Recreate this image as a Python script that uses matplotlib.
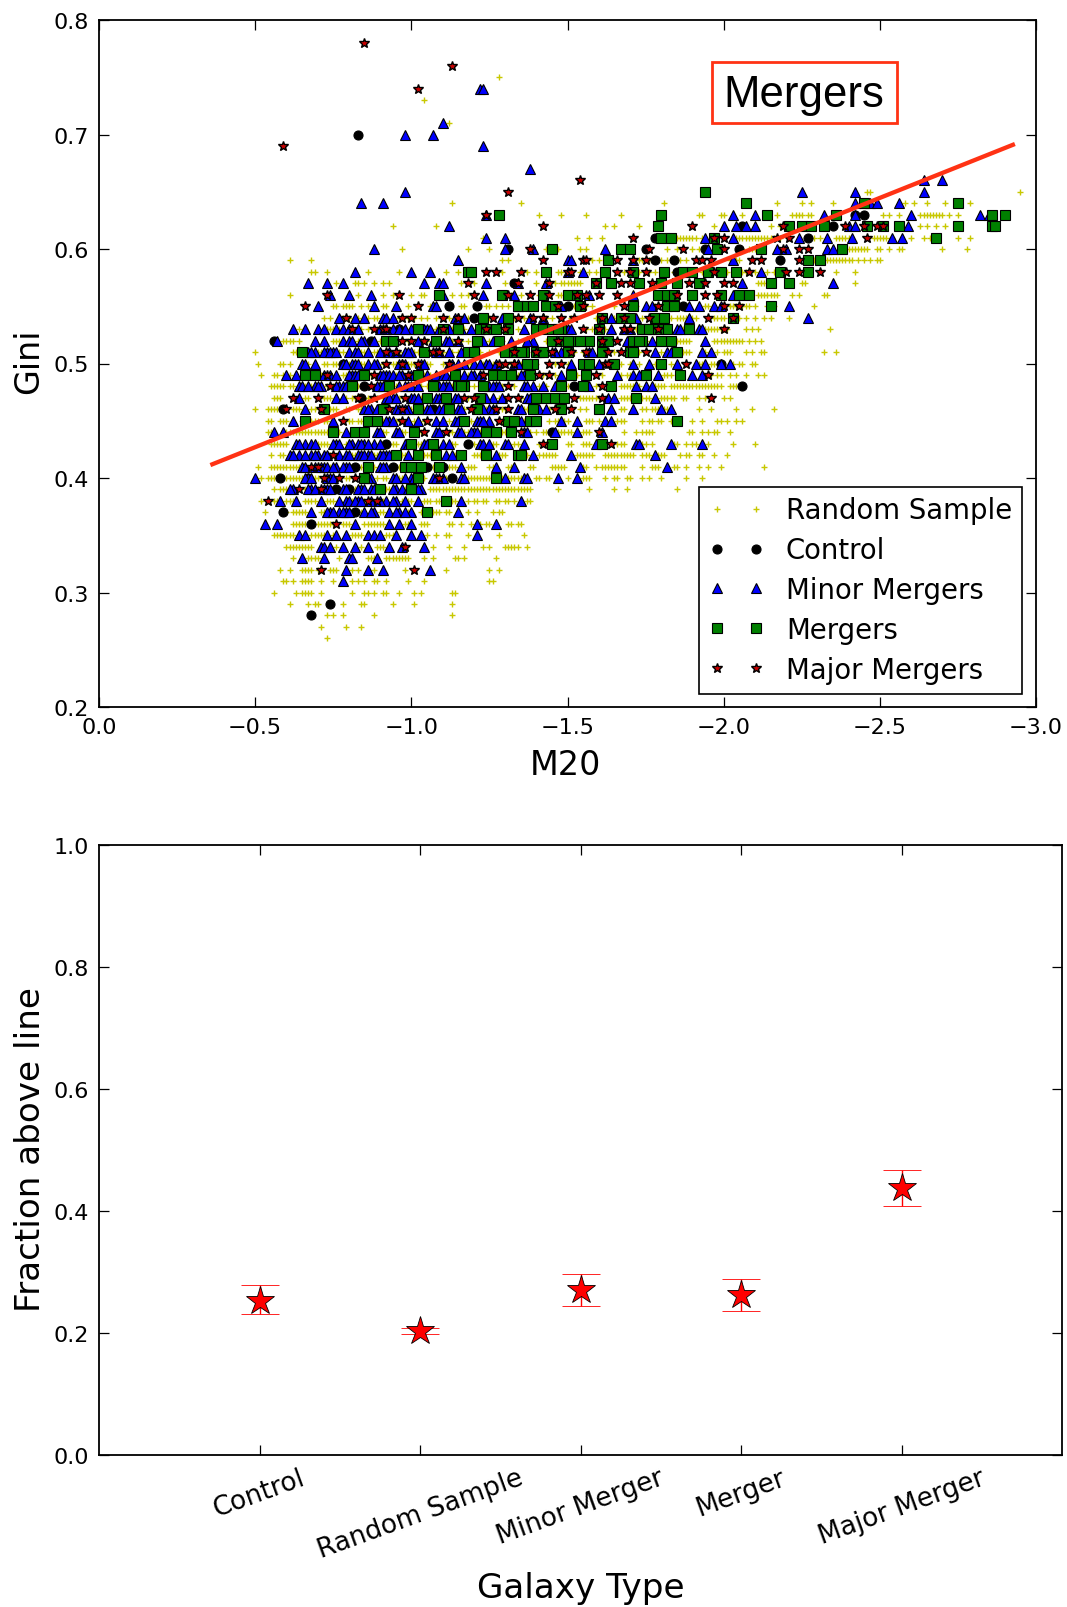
import matplotlib
matplotlib.use("Agg")
import matplotlib.pyplot as plt
from matplotlib.patches import Rectangle

# M20 magnitudes in hundredths, one list per Gini row (Gini in hundredths as key)
random_rows = {
    75: [128], 73: [104], 71: [112], 65: [246, 247, 295],
    64: [113, 135, 181, 217, 225, 228, 235, 258, 261, 265, 271, 279],
    63: [141, 148, 156, 167, 192, 193, 199, 200, 206, 217, 222, 223, 224, 225, 227, 228, 251, 253, 256, 263, 264, 265, 266, 267, 268, 269, 270, 272, 275],
    62: [94, 108, 162, 165, 173, 197, 215, 218, 263, 265, 268, 271],
    61: [123, 153, 157, 161, 185, 186, 187, 188, 189, 190, 191, 193, 204, 205, 206, 207, 208, 209, 210, 211, 212, 213, 214, 215, 216, 218, 221, 229, 231, 236, 237, 238, 239, 240, 248, 249, 250, 251, 252, 254, 260, 264, 266, 275, 279],
    60: [97, 118, 125, 143, 147, 154, 156, 182, 185, 190, 192, 206, 208, 209, 210, 211, 240, 241, 242, 243, 244, 245, 246, 249, 250, 253, 256, 257, 270, 278],
    59: [61, 68, 129, 131, 158, 160, 173, 174, 176, 180, 182, 186, 188, 202, 204, 205, 229, 230, 233, 234, 235, 236, 237, 238, 239, 240, 241, 243, 245, 247, 249, 250],
    58: [68, 69, 73, 86, 96, 111, 115, 129, 137, 140, 147, 148, 154, 157, 159, 168, 173, 176, 178, 184, 193, 201, 206, 207, 210, 214, 216, 236, 242],
    57: [76, 82, 83, 85, 88, 91, 93, 116, 120, 130, 140, 146, 148, 149, 150, 151, 152, 153, 154, 211, 212, 213, 225, 226, 242],
    56: [61, 83, 91, 94, 100, 103, 104, 113, 116, 118, 132, 135, 141, 147, 148, 211, 212, 213, 214, 215, 216, 217, 222, 224, 232, 233],
    55: [75, 76, 78, 79, 80, 81, 84, 86, 91, 92, 99, 106, 116, 117, 124, 125, 127, 129, 131, 152, 156, 158, 165, 172, 178, 181, 186, 188, 194, 195, 202, 203, 204, 206, 207, 208, 210, 214, 216, 229],
    54: [72, 74, 78, 80, 83, 86, 88, 89, 91, 96, 99, 101, 103, 105, 108, 112, 118, 125, 133, 136, 143, 145, 151, 159, 165, 174, 183, 185, 186, 187, 188, 189, 190, 191, 197, 198, 199, 200, 205, 207, 210, 213, 215, 221],
    53: [64, 66, 72, 73, 74, 75, 77, 84, 86, 89, 93, 98, 108, 113, 117, 126, 128, 134, 147, 156, 158, 162, 172, 187, 192, 193, 194, 195, 196, 197, 198, 199, 200, 201, 207, 209, 211, 234],
    52: [59, 60, 61, 62, 64, 75, 76, 77, 83, 84, 90, 91, 99, 103, 105, 109, 113, 116, 118, 125, 126, 129, 134, 136, 143, 144, 146, 150, 155, 175, 180, 185, 186, 187, 188, 189, 197, 198, 199, 200, 201, 202, 203, 204, 205, 206, 208, 210, 212],
    51: [50, 62, 63, 64, 70, 71, 76, 77, 78, 84, 85, 88, 89, 93, 96, 101, 102, 103, 106, 110, 113, 115, 116, 122, 125, 128, 131, 137, 143, 146, 150, 152, 155, 165, 173, 180, 186, 187, 188, 189, 193, 194, 198, 200, 201, 202, 207, 209, 212, 213, 232, 236],
    50: [51, 58, 59, 61, 66, 67, 72, 73, 75, 76, 80, 83, 84, 85, 88, 91, 94, 95, 99, 100, 101, 104, 105, 106, 110, 118, 119, 122, 123, 126, 130, 132, 135, 140, 146, 150, 156, 167, 170, 173, 178, 183, 192, 193, 196, 197, 202, 203, 205, 206, 209, 210],
    49: [52, 56, 57, 59, 60, 61, 66, 70, 71, 76, 78, 79, 82, 86, 87, 94, 95, 96, 100, 101, 104, 106, 111, 113, 115, 118, 119, 122, 125, 128, 129, 134, 135, 142, 146, 153, 157, 161, 167, 169, 170, 181, 182, 183, 196, 198, 199, 202, 204, 207, 211, 213],
    48: [55, 56, 57, 58, 59, 61, 62, 66, 67, 68, 73, 75, 79, 83, 88, 91, 92, 95, 98, 100, 103, 105, 106, 113, 118, 120, 122, 129, 133, 141, 143, 150, 153, 159, 167, 168, 169, 170, 171, 172, 173, 178, 179, 180, 181, 183, 184, 185, 186, 187, 188, 189, 190, 191, 192, 193, 194, 195, 196, 197, 198, 199, 202, 203, 204],
    47: [56, 57, 58, 62, 66, 67, 72, 73, 74, 78, 79, 81, 82, 85, 86, 89, 91, 95, 96, 102, 103, 104, 105, 106, 112, 117, 118, 123, 124, 128, 129, 134, 135, 142, 144, 154, 155, 156, 157, 158, 159, 160, 167, 168, 169, 170, 174, 175, 176, 180, 181, 182, 183, 184, 187, 188, 192, 194, 200, 202],
    46: [50, 54, 55, 56, 57, 62, 63, 64, 68, 69, 74, 75, 76, 79, 80, 83, 84, 89, 90, 96, 100, 103, 104, 111, 113, 117, 122, 124, 129, 130, 136, 137, 144, 149, 154, 156, 167, 168, 174, 175, 177, 178, 179, 181, 182, 192, 196, 204, 209, 216],
    45: [54, 55, 58, 59, 60, 65, 66, 68, 69, 70, 72, 73, 80, 81, 83, 84, 90, 91, 95, 96, 101, 104, 105, 110, 112, 118, 119, 123, 128, 129, 135, 136, 144, 146, 147, 149, 150, 156, 157, 158, 160, 166, 167, 168, 174, 176, 177, 179, 180, 183, 190, 193, 198, 199, 201, 204, 206],
    44: [54, 55, 60, 61, 62, 63, 64, 65, 66, 67, 68, 69, 70, 71, 72, 73, 74, 77, 81, 90, 91, 92, 97, 98, 103, 104, 112, 113, 117, 118, 122, 123, 128, 129, 130, 138, 140, 142, 143, 144, 147, 148, 149, 150, 151, 155, 156, 157, 168, 172, 174, 175, 176, 177, 189, 190, 193, 195, 197, 198, 202],
    43: [55, 56, 57, 58, 59, 60, 69, 70, 71, 72, 73, 79, 80, 90, 91, 93, 94, 95, 101, 102, 103, 112, 113, 114, 119, 120, 126, 127, 133, 134, 136, 141, 143, 150, 151, 155, 156, 157, 162, 166, 167, 168, 174, 175, 177, 184, 185, 188, 190, 191, 195, 203, 210],
    42: [55, 58, 59, 66, 73, 74, 81, 82, 84, 88, 89, 93, 94, 97, 98, 104, 105, 106, 113, 114, 120, 121, 122, 128, 129, 130, 136, 137, 141, 142, 143, 144, 145, 146, 153, 154, 155, 156, 157, 158, 162, 163, 164, 165, 166, 167, 168, 169, 170, 171, 174, 175, 176, 179, 180, 181, 186, 188, 189, 192, 193, 197, 201],
    41: [51, 55, 56, 57, 58, 59, 60, 61, 62, 63, 64, 69, 74, 78, 81, 84, 88, 95, 96, 101, 102, 107, 108, 112, 113, 114, 118, 119, 120, 125, 126, 131, 132, 138, 139, 145, 146, 147, 148, 149, 155, 156, 159, 161, 162, 163, 164, 165, 166, 167, 168, 174, 177, 178, 179, 184, 185, 188, 192, 195, 199, 213],
    40: [52, 54, 55, 56, 60, 61, 62, 63, 64, 65, 69, 70, 79, 80, 84, 89, 91, 92, 96, 97, 103, 104, 110, 111, 112, 113, 118, 119, 120, 121, 122, 123, 124, 125, 126, 127, 128, 129, 130, 131, 132, 133, 134, 135, 140, 141, 143, 144, 150, 155, 156, 157, 162, 165, 166, 169, 170, 174, 176, 180, 188, 193],
    39: [56, 58, 59, 60, 66, 70, 75, 81, 82, 92, 93, 97, 98, 99, 101, 102, 106, 107, 108, 109, 110, 111, 112, 113, 114, 115, 116, 117, 118, 119, 120, 121, 122, 123, 124, 125, 126, 127, 128, 129, 130, 131, 132, 133, 134, 135, 136, 137, 138, 147, 157, 165, 169, 185],
    38: [52, 56, 57, 60, 61, 62, 66, 67, 68, 69, 73, 74, 75, 77, 81, 85, 91, 97, 99, 100, 104, 105, 106, 108, 109, 112, 113, 114, 118, 120, 121, 123, 124, 127, 128, 130, 131, 133, 137, 138],
    37: [53, 60, 62, 63, 64, 65, 66, 71, 72, 81, 84, 90, 91, 98, 99, 103, 107, 108, 109, 111, 112, 118, 121, 126, 128, 129],
    36: [62, 63, 64, 65, 66, 70, 71, 72, 73, 74, 75, 78, 79, 80, 85, 86, 87, 88, 89, 90, 91, 98, 99, 103, 104, 105, 112, 113, 116, 119, 122, 124, 125, 131, 132, 134, 135],
    35: [56, 57, 58, 59, 60, 61, 62, 68, 69, 70, 71, 72, 75, 81, 82, 83, 84, 92, 93, 94, 105, 108, 111, 112, 118, 128, 136],
    34: [60, 61, 62, 63, 64, 65, 66, 67, 68, 76, 84, 89, 90, 91, 107, 112, 117, 123, 125, 130, 131, 132, 133, 134, 137],
    33: [62, 67, 68, 69, 70, 77, 86, 87, 88, 92, 93, 94, 95, 96, 97, 98, 99, 104, 107, 114, 115, 117, 127],
    32: [58, 61, 65, 66, 67, 68, 70, 74, 75, 76, 81, 83, 88, 98, 111, 125, 128],
    31: [59, 60, 62, 65, 66, 67, 68, 71, 75, 81, 83, 85, 88, 89, 92, 99, 104, 125, 126],
    30: [56, 63, 65, 66, 67, 68, 71, 81, 85, 86, 88, 91, 92, 96, 101, 103, 113, 114],
    29: [61, 67, 69, 70, 78, 84, 85, 94, 101, 113],
    28: [73, 75, 78, 88, 113], 27: [71, 79, 84], 26: [73],
}

control_rows = {
    70: [83], 63: [242, 245], 62: [206, 235], 61: [178, 227], 60: [131, 175, 194, 205], 59: [178, 184, 218],
    58: [185], 57: [133], 55: [112, 121, 150, 187], 54: [120], 53: [96],
    52: [56, 87], 50: [78, 199], 48: [85, 152, 206], 47: [84], 46: [59, 107],
    44: [145], 43: [92, 118], 41: [82, 94, 105, 110], 40: [58, 67, 113],
    39: [76, 80], 37: [59, 82], 36: [68], 29: [74], 28: [68],
}

minor_rows = {
    74: [122, 123], 71: [110], 70: [98, 107], 69: [123], 67: [138], 66: [264, 270],
    65: [98, 225, 242, 264], 64: [84, 91, 242, 247, 249, 256],
    63: [124, 203, 210, 232, 242, 260, 282, 285], 62: [112, 200, 204, 207, 210, 240, 242, 259],
    61: [124, 130, 194, 203, 224, 233, 241, 254, 257], 60: [88, 130, 139, 162, 195, 217, 220, 233, 235],
    59: [115, 150, 151, 171, 203], 58: [82, 100, 106, 150, 155, 212],
    57: [67, 73, 78, 104, 109, 110, 124, 134, 143, 206, 235],
    56: [74, 80, 87, 110, 123, 133, 157, 171, 203],
    55: [70, 88, 95, 107, 108, 134, 148, 175, 177, 189, 192, 197, 199, 221],
    54: [77, 82, 85, 91, 92, 94, 114, 115, 117, 129, 138, 142, 164, 172, 189, 227],
    53: [62, 66, 70, 76, 78, 94, 96, 100, 104, 105, 106, 119, 136, 150, 164, 185, 192, 72, 80, 83, 90, 92, 98, 102, 109, 112, 116, 122, 151, 168, 170, 186, 193],
    52: [57, 69, 72, 78, 80, 81, 85, 102, 107, 111, 112, 115, 123, 126, 132, 139, 169, 177, 194, 84, 88, 137],
    51: [67, 69, 73, 75, 80, 82, 86, 90, 98, 100, 112, 116, 148, 157, 178, 182, 193, 196, 68, 72, 74, 76, 83, 93, 95, 99, 108, 109, 146, 158, 183, 185],
    50: [65, 69, 78, 81, 86, 89, 97, 103, 112, 117, 120, 124, 133, 136, 151, 160, 171, 176, 185, 191, 194, 199, 202, 66, 79, 82, 83, 88, 96, 98, 104, 113, 115, 122, 125, 127, 134, 137],
    49: [60, 63, 72, 74, 81, 84, 90, 92, 97, 105, 108, 110, 117, 120, 131, 136, 148, 166, 171, 173, 179, 190, 193, 76, 80, 82, 83, 91, 93, 94, 96, 100, 102, 111, 113, 119, 122, 133, 135],
    48: [64, 69, 71, 77, 90, 96, 99, 108, 111, 125, 127, 136, 139, 142, 146, 157, 172, 175, 177, 65, 67, 70, 76, 78, 79, 89, 91, 98, 100, 102, 109, 110, 112, 126, 128, 137],
    47: [64, 76, 92, 94, 100, 108, 114, 126, 137, 163, 165, 178, 78, 93, 95, 101, 102, 109, 110, 115, 124, 129, 138],
    46: [66, 85, 87, 95, 99, 105, 109, 115, 125, 134, 141, 143, 164, 171, 180, 183, 86, 89, 96, 98, 106, 110, 116, 123, 126, 135],
    45: [62, 75, 87, 93, 99, 102, 108, 114, 121, 125, 137, 148, 153, 162, 164, 92, 94, 110, 115, 122, 123, 135],
    44: [56, 59, 79, 89, 95, 108, 115, 120, 136, 146, 153, 161, 90, 96, 109, 116, 119, 121, 137],
    43: [63, 66, 68, 76, 81, 85, 88, 98, 104, 110, 122, 130, 136, 159, 172, 173, 183, 193, 64, 69, 75, 77, 80, 83, 84, 86, 90, 99, 105, 112, 123, 125, 131],
    42: [61, 64, 68, 70, 72, 77, 79, 83, 86, 90, 92, 99, 111, 127, 139, 151, 178, 62, 66, 69, 73, 80, 84, 85, 87, 91, 93, 113],
    41: [65, 72, 76, 79, 90, 92, 116, 127, 133, 154, 182, 66, 69, 71, 73, 75, 78, 80, 91],
    40: [50, 67, 74, 87, 94, 100, 107, 116, 130, 136, 137, 147, 153, 66, 68, 73, 75, 86, 95, 98, 101, 108, 110, 117],
    39: [62, 68, 73, 78, 84, 87, 95, 103, 61, 67, 69, 72, 74, 79, 83, 85, 88, 94, 97, 99, 102],
    38: [58, 63, 71, 79, 83, 92, 95, 102, 116, 135, 77, 80, 82, 84, 87, 90, 94, 98],
    37: [68, 74, 77, 79, 85, 88, 93, 96, 100, 115, 73, 75, 78, 80, 87, 95, 98],
    36: [53, 57, 82, 93, 96, 100, 121, 127],
    35: [64, 66, 73, 76, 79, 86, 88, 90, 95, 100, 103, 121],
    34: [71, 72, 74, 78, 82, 86, 93, 97, 104],
    33: [65, 72, 80, 81, 89], 32: [79, 86, 91, 106], 31: [78],
}

merger_rows = {
    65: [194], 64: [207, 245, 275], 63: [128, 180, 214, 236, 286, 290],
    62: [179, 221, 225, 228, 232, 246, 251, 256, 275, 286, 287], 61: [180, 183, 197, 268],
    60: [145, 167, 170, 198, 212, 238], 59: [163, 227, 231],
    58: [118, 119, 143, 162, 171, 181, 187, 190, 195, 199, 204, 218, 227],
    57: [159, 164, 173, 180, 185, 192, 215, 221],
    56: [109, 129, 142, 150, 153, 179, 182, 184, 190, 199, 205, 208],
    55: [134, 137, 139, 143, 146, 154, 171, 182, 184, 215],
    54: [123, 131, 161, 167, 170, 178, 181, 203],
    53: [102, 110, 115, 122, 124, 127, 131, 140, 142, 148, 160, 175, 177, 182, 189, 145, 147, 174, 176, 179],
    52: [92, 94, 108, 121, 128, 145, 149, 152, 157, 161, 171, 174, 183, 148, 150, 154, 163, 173, 180],
    51: [65, 104, 118, 120, 130, 133, 136, 141, 150, 161, 170, 185, 135, 140, 142, 171],
    50: [139, 155, 157, 165, 180, 137],
    49: [66, 69, 85, 102, 114, 126, 129, 132, 138, 151, 156, 175, 186],
    48: [81, 93, 107, 115, 117, 123, 148, 155, 164, 116], 47: [105, 111, 122, 140, 143, 146, 149, 172],
    46: [72, 91, 102, 112, 121, 139, 148, 160], 45: [66, 86, 89, 117, 131, 133, 138, 140, 185],
    44: [75, 82, 85, 101, 124, 127, 132], 43: [100, 107, 145, 161], 42: [95, 102, 108, 116, 124, 134, 135],
    41: [86, 98, 100, 103, 109], 40: [85, 102, 127], 39: [90, 100], 38: [111], 37: [105],
}

major_rows = {
    78: [85], 76: [113], 74: [102], 69: [59], 66: [154], 65: [131], 63: [124], 62: [142, 190, 219, 239, 245, 249, 251],
    61: [171, 197, 200, 217, 221, 246], 60: [138, 176, 187, 200, 219, 224, 227],
    59: [142, 155, 156, 166, 171, 175, 191, 193, 196, 209, 212, 224],
    58: [124, 127, 135, 150, 151, 166, 170, 175, 197, 208, 220, 224, 231],
    57: [118, 134, 144, 159, 167, 170, 177, 189, 194, 200, 203],
    56: [73, 96, 120, 131, 138, 144, 153, 156, 160, 166, 185, 194, 198],
    55: [66, 102, 147, 155, 168, 179, 200, 205],
    54: [79, 97, 100, 110, 115, 126, 134, 139, 142, 148, 152, 161, 168, 176, 195, 203],
    53: [81, 88, 91, 92, 110, 124, 130, 155, 160, 168, 170, 179, 200],
    52: [97, 100, 104, 115, 147, 161, 166],
    51: [92, 95, 107, 109, 133, 140, 145, 151, 156, 163, 167, 175],
    50: [92, 97, 102, 112, 128, 130, 133, 144, 148, 162, 163, 188],
    49: [73, 88, 99, 123, 141, 144, 159, 195], 48: [74, 87, 131, 161],
    47: [62, 70, 83, 88, 98, 117, 120, 131, 134, 152, 161, 196], 46: [60, 71, 93, 97, 119, 127, 131, 146, 151],
    45: [78, 97, 105, 128], 44: [104, 111, 135, 160], 43: [142, 164], 42: [75],
    41: [68, 70], 40: [72, 77, 82, 109], 39: [64, 71], 38: [54, 86, 89], 36: [76], 34: [98], 32: [71, 101],
}

fit_m20 = [-0.363, -2.926]
fit_gini = [0.412, 0.691]

galaxy_types = ["Control", "Random Sample", "Minor Merger", "Merger", "Major Merger"]
type_pos = [1, 2, 3, 4, 5]
frac_above = [0.252, 0.203, 0.271, 0.262, 0.438]
frac_low = [0.231, 0.198, 0.245, 0.236, 0.408]
frac_high = [0.278, 0.208, 0.297, 0.288, 0.468]


def unpack(rows):
    xs, ys = [], []
    for g, ms in rows.items():
        for m in ms:
            xs.append(-m / 100.0)
            ys.append(g / 100.0)
    return xs, ys


W, H = 1067.0, 1608.0
plt.rcParams["font.family"] = "DejaVu Sans"
fig = plt.figure(figsize=(W / 100, H / 100), dpi=100)

ax1 = fig.add_axes([99 / W, 1 - 708 / H, 937 / W, 687 / H])
series = [
    (random_rows, "+", "#c8c800", 5, "Random Sample"),
    (control_rows, "o", "k", 6.5, "Control"),
    (minor_rows, "^", "#0000ff", 7.3, "Minor Mergers"),
    (merger_rows, "s", "#008000", 6.8, "Mergers"),
    (major_rows, "*", "#c80000", 7.5, "Major Mergers"),
]
for rows, mk, col, ms, name in series:
    x, y = unpack(rows)
    ax1.plot(x, y, ls="none", marker=mk, color=col, ms=ms, mec=col if mk == "+" else "k", mew=1 if mk in "+*" else 0.8, label=name)
ax1.plot(fit_m20, fit_gini, color="#ff3214", lw=3.1, zorder=5)

ax1.set_xlim(0, -3)
ax1.set_ylim(0.2, 0.8)
ax1.set_xticks([0, -0.5, -1, -1.5, -2, -2.5, -3])
ax1.set_yticks([0.2, 0.3, 0.4, 0.5, 0.6, 0.7, 0.8])
ax1.set_xlabel("M20", fontsize=24)
ax1.set_ylabel("Gini", fontsize=24)
ax1.xaxis.set_label_coords(0.498, -0.059)
ax1.yaxis.set_label_coords(-0.058, 0.505)

leg = ax1.legend(loc="lower right", bbox_to_anchor=(0.985, 0.0195), borderaxespad=0, numpoints=2, fontsize=19.8,
                 fancybox=False, framealpha=1, edgecolor="k", labelspacing=0.43, handlelength=2.0,
                 handletextpad=0.8, borderpad=0.36)
leg.get_frame().set_linewidth(1.2)
leg.set_zorder(10)

fig.add_artist(Rectangle((712 / W, 1 - 124 / H), 185 / W, 61 / H, transform=fig.transFigure,
                         fc="w", ec="#ff3214", lw=2))
fig.text(804 / W, 1 - 95 / H, "Mergers", fontsize=31.5, family="Liberation Sans", ha="center", va="center")

ax2 = fig.add_axes([99 / W, 1 - 1456 / H, 963 / W, 610 / H])
low_err = [v - l for v, l in zip(frac_above, frac_low)]
high_err = [h - v for v, h in zip(frac_above, frac_high)]
ax2.errorbar(type_pos, frac_above, yerr=[low_err, high_err], ls="none", marker="*", ms=21, color="r",
             ecolor="r", mec="k", mew=0.6, elinewidth=1, capsize=13.5, capthick=1)
ax2.set_xlim(0, 6)
ax2.set_ylim(0, 1)
ax2.set_xticks(type_pos)
ax2.set_xticklabels(galaxy_types, rotation=20)
ax2.set_yticks([0, 0.2, 0.4, 0.6, 0.8, 1.0])
ax2.set_xlabel("Galaxy Type", fontsize=24.6)
ax2.set_ylabel("Fraction above line", fontsize=24.6)
ax2.xaxis.set_label_coords(0.5, -0.19)
ax2.yaxis.set_label_coords(-0.054, 0.503)

for ax in (ax1, ax2):
    ax.tick_params(direction="in", length=7, width=0.9, top=True, right=True, labelsize=16, pad=7)
    for s in ax.spines.values():
        s.set_linewidth(1.3)
ax2.tick_params(axis="x", labelsize=19)

fig.savefig("out.png", dpi=100)
